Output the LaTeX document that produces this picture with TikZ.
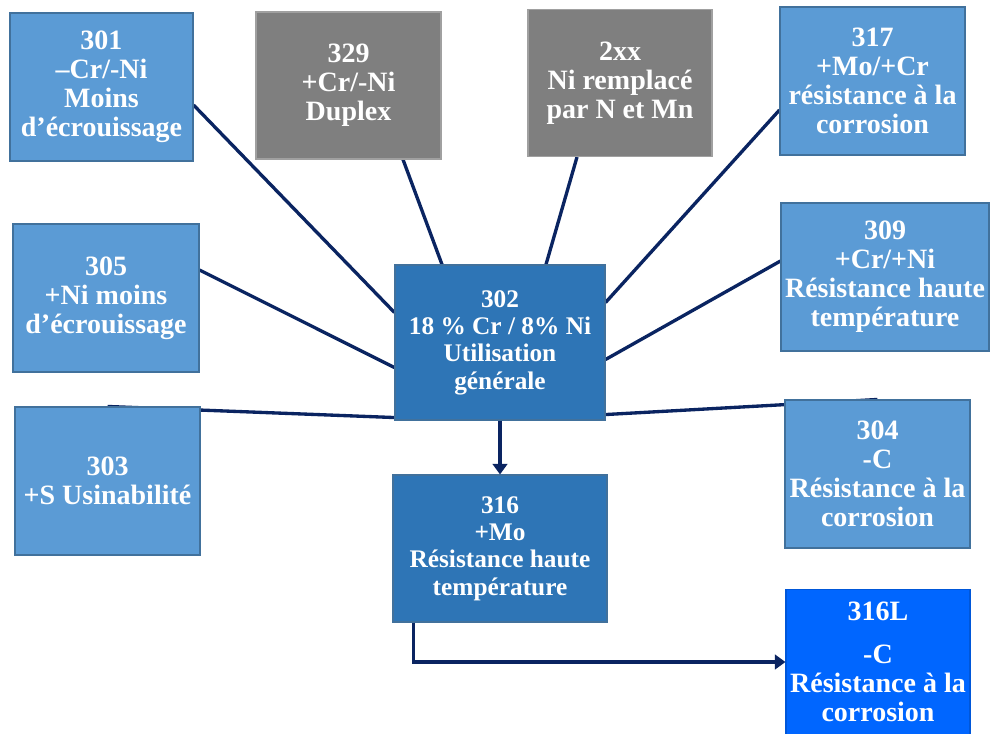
\documentclass[tikz,border=0pt]{standalone}
\usepackage{fontspec}
\setmainfont{Liberation Serif}
\usetikzlibrary{positioning, arrows.meta, calc, backgrounds}
\definecolor{inoxBlue}{HTML}{5B9BD5}
\definecolor{inoxBlueEdge}{HTML}{41719C}
\definecolor{inoxMidBlue}{HTML}{2E75B6}
\definecolor{inoxBright}{HTML}{0066FF}
\definecolor{inoxGray}{HTML}{7F7F7F}
\definecolor{inoxGrayEdge}{HTML}{A0A0A0}
\definecolor{inoxNavy}{HTML}{0A2461}

\begin{document}
\begin{tikzpicture}[
    x=0.75pt, y=-0.75pt,
    every node/.style={font=\bfseries\fontsize{21}{21.75}\selectfont, text=white, align=center, inner sep=0pt},
    gradebox/.style 2 args={rectangle, draw=inoxBlueEdge, line width=0.8pt, fill=inoxBlue,
        minimum width={#1*0.75pt}, minimum height={#2*0.75pt}},
    greybox/.style={draw=inoxGrayEdge, fill=inoxGray},
    basebox/.style={fill=inoxMidBlue, font=\bfseries\fontsize{19}{20.5}\selectfont},
    lowcbox/.style={fill=inoxBright, draw=inoxBright!85!black},
    link/.style={line width=2.5pt, draw=inoxNavy},
    flow/.style={link, -{Triangle[length=8pt, width=11pt]}}
]
\useasboundingbox (0,0) rectangle (991,733);

% ============================
% Grades around the base grade
% ============================
\node[gradebox={183}{148}] (n301) at (101.5,87) {301\\--Cr/-Ni\\Moins\\d'écrouissage};
\node[gradebox={185}{147}, greybox] (n329) at (348.5,85.5) {329\\+Cr/-Ni\\Duplex};
\node[gradebox={184}{147}, greybox] (n2xx) at (620,83) {2xx\\Ni remplacé\\par N et Mn};
\node[gradebox={185}{148}] (n317) at (872.5,81) {317\\+Mo/+Cr\\résistance à la\\corrosion};

\node[gradebox={186}{148}] (n305) at (106,298) {305\\+Ni moins\\d'écrouissage};
\node[gradebox={210}{155}, basebox] (n302) at (500,342.5) {302\\18 \% Cr / 8\% Ni\\Utilisation\\générale};
\node[gradebox={208}{148}] (n309) at (885,277) {309\\+Cr/+Ni\\Résistance haute\\température};

\node[gradebox={185}{148}] (n303) at (107.5,481) {303\\+S Usinabilité};
\node[gradebox={185}{148}] (n304) at (877.5,474) {304\\-C\\Résistance à la\\corrosion};

% 316 branch
\node[gradebox={214}{147}, basebox] (n316) at (500,548.5) {316\\+Mo\\Résistance haute\\température};
\node[gradebox={184}{145}, lowcbox] (n316L) at (878,662) {316L\\[10pt]-C\\Résistance à la\\corrosion};

% ============================
% Links
% ============================
\begin{scope}[on background layer]
\draw[link] ($(n301.east)+(0,18)$) -- ($(n302.west)+(0,-30)$);
\draw[link] ($(n329.south)+(54.5,0)$) -- ($(n302.north)+(-58,0)$);
\draw[link] ($(n2xx.south)+(-43,0)$) -- ($(n302.north)+(46,0)$);
\draw[link] ($(n317.west)+(0,29)$) -- ($(n302.east)+(0,-40)$);
\draw[link] ($(n305.east)+(0,-28)$) -- ($(n302.west)+(0,25)$);
\draw[link] ($(n309.west)+(0,-16)$) -- ($(n302.east)+(0,17)$);
\draw[link] (n303.north) -- ($(n302.south west)+(0,-3)$);
\draw[link] (n304.north) -- ($(n302.south east)+(0,-6)$);
\end{scope}

% Arrows
\draw[flow] (n302) -- (n316);
\draw[flow] ($(n316.south west)+(21,0)$) |- (n316L.west);

\end{tikzpicture}
\end{document}
